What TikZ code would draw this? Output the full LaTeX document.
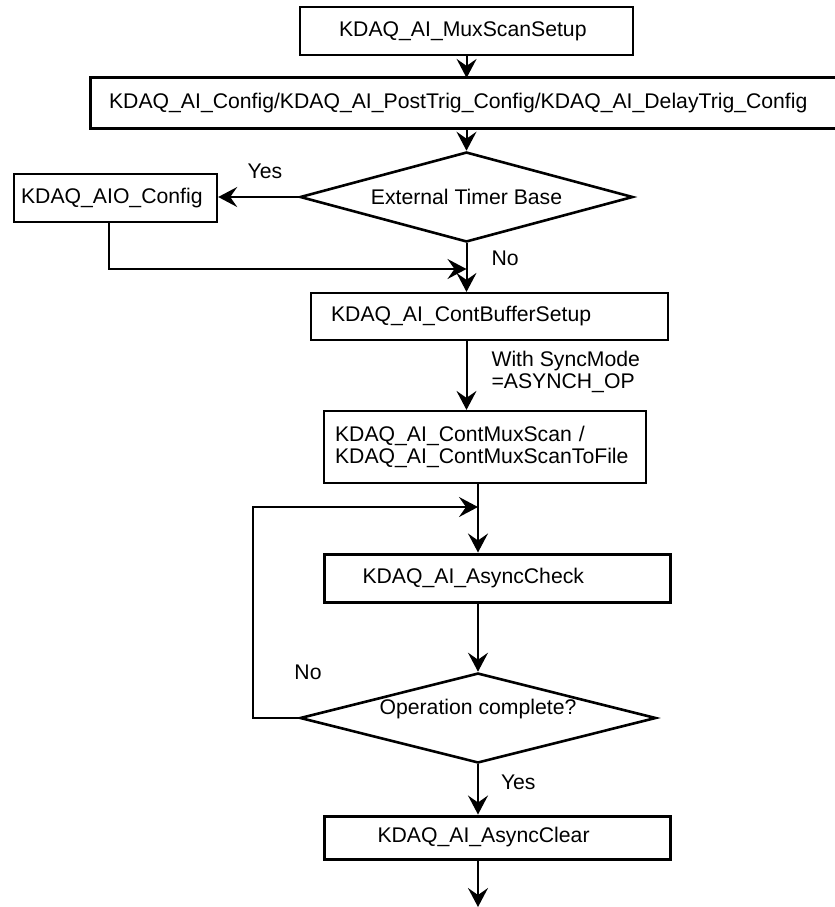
\documentclass[tikz,border=0pt]{standalone}
\usepackage{fontspec}
\setmainfont{Liberation Sans}
\usepackage{tikz}
\usetikzlibrary{arrows.meta,shapes.geometric}

\tikzset{
  box/.style={draw, line width=1.1pt, rectangle, anchor=west, align=left, inner ysep=0pt},
  decision/.style={draw, line width=1.3pt, diamond, inner sep=0pt, aspect=3.7},
  arr/.style={line width=1pt, -{Stealth[length=9.5pt,width=10pt,inset=3.5pt]}},
  lbl/.style={align=left, inner sep=0pt}
}

\begin{document}
\begin{tikzpicture}[x=0.5pt, y=-0.5pt, font=\fontsize{10.6}{11}\selectfont]
            \useasboundingbox (0,0) rectangle (835,907);

            \node[box, minimum width=166.5pt, minimum height=24pt, text width=127.5pt, inner xsep=19.5pt] (muxsetup) at (299,31) {KDAQ\_AI\_MuxScanSetup};
            \node[box, draw=none, minimum width=390pt, minimum height=24pt, text width=372pt, inner xsep=9pt] (aiconfig) at (90,103) {KDAQ\_AI\_Config/KDAQ\_AI\_PostTrig\_Config/KDAQ\_AI\_DelayTrig\_Config};
            \draw[line width=1.5pt] (aiconfig.north east) -- (aiconfig.north west) -- (aiconfig.south west) -- (aiconfig.south east);
            \node[decision, minimum width=166.5pt, minimum height=45pt] (timer) at (466.5,197) {External Timer Base};
            \node[box, minimum width=101.5pt, minimum height=24pt, text width=94.5pt, inner xsep=3.5pt] (aio) at (13,198) {KDAQ\_AIO\_Config};
            \node[box, minimum width=178.5pt, minimum height=23.5pt, text width=158.5pt, inner xsep=10pt] (contbuf) at (310,316.5) {KDAQ\_AI\_ContBufferSetup};
            \node[box, minimum width=161pt, minimum height=36pt, text width=150pt, inner xsep=5.5pt] (contmux) at (323,447) {KDAQ\_AI\_ContMuxScan /\\KDAQ\_AI\_ContMuxScanToFile};
            \node[box, line width=1.5pt, minimum width=173pt, minimum height=24pt, text width=135pt, inner xsep=19pt] (check) at (323,578) {KDAQ\_AI\_AsyncCheck};
            \node[decision, aspect=4, minimum width=178pt, minimum height=45pt, text depth=11pt] (done) at (478,718) {Operation complete?};
            \node[box, line width=1.5pt, minimum width=173pt, minimum height=21.5pt, text width=120pt, inner xsep=26.5pt] (clear) at (323,837.5) {KDAQ\_AI\_AsyncClear};

            \coordinate (join) at (466.5,269);
            \coordinate (merge) at (478,507);
            \coordinate (finish) at (478,907);

            \draw[arr] (muxsetup.south) -- (muxsetup.south |- aiconfig.north);
            \draw[arr] (timer.north |- aiconfig.south) -- (timer.north);
            \draw[arr] (timer.west) -- (timer.west -| aio.east) node[lbl, pos=.42, above=8.5pt] {Yes};
            \draw[arr] (timer.south) -- (timer.south |- contbuf.north) node[lbl, pos=.3, right=12pt] {No};
            \draw[arr] (aio.south -| 109,0) |- (join);
            \draw[arr] (timer.south |- contbuf.south) -- (timer.south |- contmux.north) node[lbl, pos=.45, right=12pt] {With SyncMode\\=ASYNCH\_OP};
            \draw[arr] (done.north |- contmux.south) -- (done.north |- check.north);
            \draw[arr] (done.west) -- ++(-46,0) |- (merge);
            \draw[arr] (check.south -| done.north) -- (done.north);
            \draw[arr] (done.south) -- (done.south |- clear.north) node[lbl, pos=.35, right=11pt] {Yes};
            \draw[arr] (done.south |- clear.south) -- (finish);

            \node[lbl] (nolbl) at (308,672) {No};
         \end{tikzpicture}
\end{document}
